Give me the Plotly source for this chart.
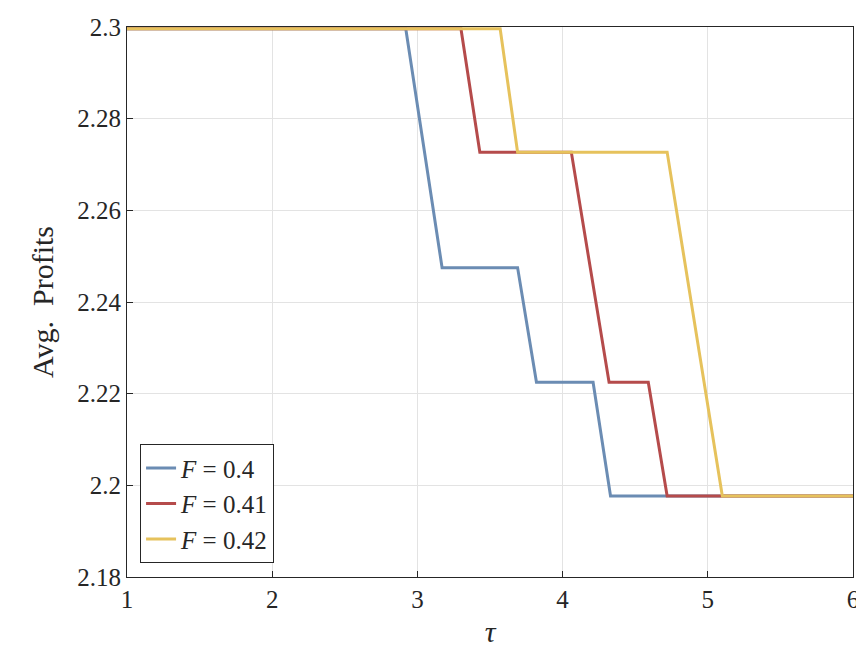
import plotly.graph_objects as go

x_f040 = [1, 2.92, 3.17, 3.69, 3.82, 4.21, 4.33, 6]
y_f040 = [2.2996, 2.2996, 2.2475, 2.2475, 2.2225, 2.2225, 2.1977, 2.1977]
x_f041 = [1, 3.30, 3.43, 4.06, 4.32, 4.59, 4.72, 6]
y_f041 = [2.2996, 2.2996, 2.2727, 2.2727, 2.2225, 2.2225, 2.1977, 2.1977]
x_f042 = [1, 3.57, 3.69, 4.72, 5.10, 6]
y_f042 = [2.2996, 2.2996, 2.2727, 2.2727, 2.1977, 2.1977]

series = [
    ("<i>F</i> = 0.4", x_f040, y_f040, "#6b8cb3"),
    ("<i>F</i> = 0.41", x_f041, y_f041, "#b54b4b"),
    ("<i>F</i> = 0.42", x_f042, y_f042, "#e6c25c"),
]

fig = go.Figure()
for name, xs, ys, col in series:
    fig.add_trace(go.Scatter(x=xs, y=ys, mode="lines", name=name,
                             line=dict(color=col, width=3)))

axis_common = dict(showline=True, linecolor="#262626", linewidth=1, mirror=True,
                   ticks="inside", ticklen=6, tickcolor="#262626", automargin=False,
                   showgrid=True, gridcolor="#e3e3e3", zeroline=False,
                   tickfont=dict(size=25, color="#262626"))
fig.update_xaxes(range=[1, 6], dtick=1, title=dict(text="<i>τ</i>", font=dict(size=30), standoff=8),
                 **axis_common)
fig.update_yaxes(range=[2.18, 2.3], dtick=0.02, tickformat="~g",
                 title=dict(text="Avg.  Profits", font=dict(size=30), standoff=14), **axis_common)

fig.update_layout(
    width=864, height=664,
    margin=dict(l=119, r=19, t=19, b=95),
    paper_bgcolor="white", plot_bgcolor="white",
    font=dict(family="Liberation Serif, DejaVu Serif, serif", color="#262626"),
    legend=dict(x=0.018, y=0.025, xanchor="left", yanchor="bottom",
                bgcolor="white", bordercolor="#262626", borderwidth=1,
                font=dict(size=25)),
)

fig.write_html("out.html")
